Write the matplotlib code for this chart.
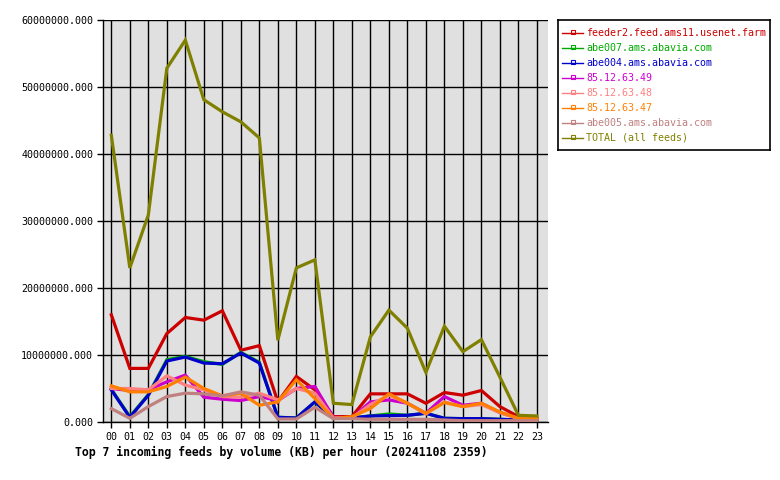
import matplotlib
matplotlib.use("Agg")
import matplotlib.pyplot as plt
from matplotlib.lines import Line2D

hours = ["00","01","02","03","04","05","06","07","08","09","10","11",
         "12","13","14","15","16","17","18","19","20","21","22","23"]

feeder2 = [16.0, 8.0, 8.0, 13.2, 15.6, 15.2, 16.6, 10.7, 11.4, 3.0, 6.8, 4.8,
           0.8, 0.8, 4.2, 4.2, 4.2, 2.8, 4.4, 4.0, 4.7, 2.3, 0.8, 0.55]
abe007 = [4.9, 0.8, 4.1, 9.3, 9.8, 9.0, 8.6, 10.4, 8.9, 0.7, 0.6, 3.0,
          0.6, 0.6, 0.9, 1.2, 1.0, 1.3, 0.55, 0.5, 0.5, 0.4, 0.3, 0.3]
abe004 = [4.8, 0.7, 4.0, 9.1, 9.7, 8.8, 8.7, 10.3, 8.8, 0.7, 0.6, 3.0,
          0.6, 0.6, 0.9, 0.95, 1.0, 1.3, 0.55, 0.5, 0.5, 0.4, 0.3, 0.3]
ip49 = [5.0, 4.7, 4.8, 6.0, 7.0, 3.7, 3.4, 3.2, 3.8, 3.2, 5.0, 5.3,
        0.7, 0.6, 3.0, 3.3, 2.8, 1.3, 3.8, 2.5, 2.8, 1.4, 0.55, 0.55]
ip48 = [5.0, 5.0, 4.8, 6.9, 5.5, 4.8, 3.8, 3.7, 4.3, 3.3, 5.0, 4.3,
        0.6, 0.6, 2.6, 4.0, 2.8, 1.2, 3.0, 2.3, 2.6, 1.4, 0.5, 0.5]
ip47 = [5.4, 4.5, 4.5, 5.3, 6.7, 5.0, 3.9, 4.3, 2.5, 3.0, 6.3, 3.5,
        0.5, 0.8, 2.0, 4.2, 2.8, 1.3, 2.9, 2.3, 2.8, 1.5, 0.55, 0.5]
abe005 = [2.0, 0.55, 2.3, 3.8, 4.3, 4.2, 3.9, 4.5, 4.0, 0.45, 0.45, 2.2,
          0.5, 0.5, 0.4, 0.4, 0.4, 0.4, 0.3, 0.2, 0.2, 0.2, 0.2, 0.2]
total = [42.8, 23.0, 30.9, 52.8, 57.0, 48.1, 46.3, 44.8, 42.4, 12.2, 23.0, 24.2,
         2.8, 2.6, 12.7, 16.7, 14.0, 7.4, 14.3, 10.5, 12.3, 6.7, 1.0, 0.9]

names = ["feeder2.feed.ams11.usenet.farm", "abe007.ams.abavia.com",
         "abe004.ams.abavia.com", "85.12.63.49", "85.12.63.48",
         "85.12.63.47", "abe005.ams.abavia.com", "TOTAL (all feeds)"]
series = [feeder2, abe007, abe004, ip49, ip48, ip47, abe005, total]
colors = ["#cc0000", "#00aa00", "#0000cc", "#cc00cc", "#ff8080",
          "#ff8000", "#c08080", "#808000"]

yticks = [0, 10, 20, 30, 40, 50, 60]

mono = "DejaVu Sans Mono"
W, H = 780, 480
fig = plt.figure(figsize=(W/100, H/100), dpi=100)
fig.patch.set_facecolor("white")

L, R, T, B = 103, 548, 20, 422
ax = fig.add_axes([L/W, 1 - B/H, (R-L)/W, (B-T)/H])
ax.set_facecolor("#e0e0e0")

x = list(range(len(hours)))
for s, c in zip(series, colors):
    ax.plot(x, [v*1e6 for v in s], color=c, lw=2.3, solid_joinstyle="miter", zorder=3)

ax.set_xlim(-0.45, 23.6)
ax.set_ylim(0, 60e6)
ax.set_xticks(x)
ax.set_xticklabels(hours, fontfamily=mono, fontsize=7.2)
ax.set_yticks([v*1e6 for v in yticks])
ax.set_yticklabels([f"{v*1e6:.3f}" for v in yticks], fontfamily=mono, fontsize=7.2)
ax.grid(True, color="black", lw=1.0, zorder=1)
ax.set_axisbelow(True)
ax.tick_params(axis="both", direction="out", length=4, width=1, color="black", pad=3)
for sp in ax.spines.values():
    sp.set_color("black")
    sp.set_linewidth(1.0)
ax.spines["top"].set_visible(False)
ax.spines["right"].set_visible(False)

fig.text(75/W, 1 - 452/H, "Top 7 incoming feeds by volume (KB) per hour (20241108 2359)",
         fontfamily=mono, fontweight="bold", fontsize=8.3, ha="left", va="center")

# legend
lx0, ly0, lx1, ly1 = 558, 20, 770, 150
lax = fig.add_axes([lx0/W, 1 - ly1/H, (lx1-lx0)/W, (ly1-ly0)/H])
lax.set_xlim(lx0, lx1)
lax.set_ylim(ly1, ly0)
lax.set_xticks([]); lax.set_yticks([])
for sp in lax.spines.values():
    sp.set_color("black"); sp.set_linewidth(1.2)
for i, (n, c) in enumerate(zip(names, colors)):
    yy = 33 + i*15
    lax.add_line(Line2D([562, 583], [yy, yy], color=c, lw=1.0))
    lax.add_line(Line2D([572.5], [yy-1], color=c, marker="s", markersize=2.5,
                        markerfacecolor="none", markeredgewidth=0.8))
    lax.text(586, yy, n, color=c, fontfamily=mono, fontsize=7.2, va="center", ha="left")

fig.savefig("out.png", dpi=100)
